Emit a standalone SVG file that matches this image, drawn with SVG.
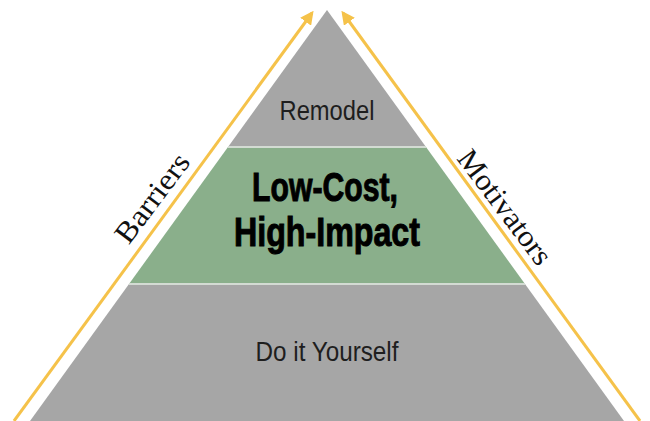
<svg xmlns="http://www.w3.org/2000/svg" width="650" height="421" viewBox="0 0 650 421">
  <style>
    .band-gray { fill: #a6a6a6; }
    .band-green { fill: #8aaf8b; }
    .sep { stroke: #d3dbd3; stroke-width: 2; }
    .lbl { font-family: "Liberation Sans Narrow", "Liberation Sans", Arial, sans-serif; fill: #1e1e1e; text-anchor: middle; }
    .big { font-family: "Liberation Sans Narrow", "Liberation Sans", Arial, sans-serif; font-weight: bold; fill: #000; stroke: #000; stroke-width: 1; text-anchor: middle; }
    .side { font-family: "Liberation Serif", "Times New Roman", serif; fill: #111; text-anchor: middle; }
    .arrow { stroke: #f5c24a; stroke-width: 3; fill: none; }
  </style>
  <defs>
    <marker id="ah" viewBox="0 0 10 10" refX="8" refY="5" markerWidth="4.5" markerHeight="4.5" orient="auto" markerUnits="strokeWidth">
      <path d="M0,0 L10,5 L0,10 Z" fill="#f5c24a"/>
    </marker>
  </defs>
  <rect x="0" y="0" width="650" height="421" fill="#ffffff"/>

  <g id="remodel">
    <polygon class="band-gray" points="327,10 228,147 426,147"/>
    <text class="lbl" x="327" y="120" font-size="27" textLength="95" lengthAdjust="spacingAndGlyphs">Remodel</text>
  </g>
  <g id="low-cost-high-impact">
    <polygon class="band-green" points="228,147 426,147 525,284 129,284"/>
    <text class="big" x="325" y="201" font-size="40" textLength="146" lengthAdjust="spacingAndGlyphs">Low-Cost,</text>
    <text class="big" x="327" y="246" font-size="40" textLength="186" lengthAdjust="spacingAndGlyphs">High-Impact</text>
  </g>
  <g id="do-it-yourself">
    <polygon class="band-gray" points="129,284 525,284 624,421 30,421"/>
    <text class="lbl" x="327" y="361" font-size="27" textLength="143" lengthAdjust="spacingAndGlyphs">Do it Yourself</text>
  </g>
  <g id="separators">
    <line class="sep" x1="228" y1="147" x2="426" y2="147"/>
    <line class="sep" x1="129" y1="284" x2="525" y2="284"/>
  </g>

  <g id="connectors">
    <line class="arrow" x1="14" y1="421" x2="312" y2="13" marker-end="url(#ah)"/>
    <line class="arrow" x1="640" y1="421" x2="343" y2="13" marker-end="url(#ah)"/>
  </g>

  <g id="barriers">
    <text class="side" transform="translate(160,204) rotate(-53)" font-size="30" textLength="104" lengthAdjust="spacingAndGlyphs">Barriers</text>
  </g>
  <g id="motivators">
    <text class="side" transform="translate(497,213) rotate(53)" font-size="30" textLength="136" lengthAdjust="spacingAndGlyphs">Motivators</text>
  </g>
</svg>
